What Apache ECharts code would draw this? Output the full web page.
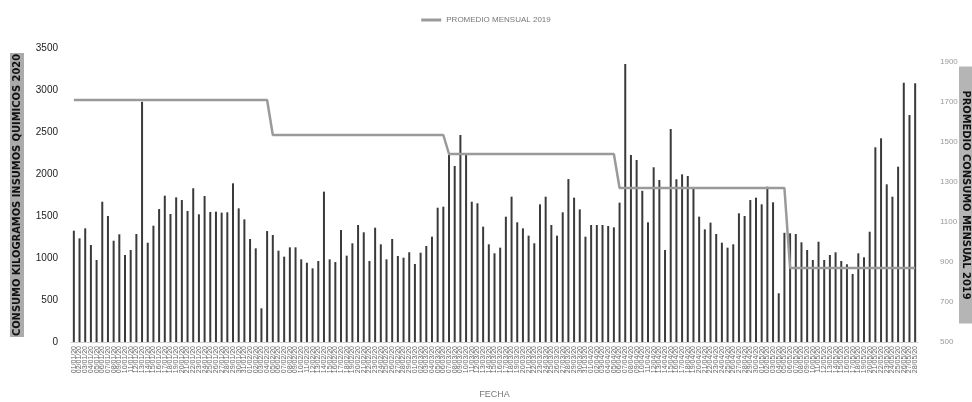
<!DOCTYPE html>
<html>
<head>
<meta charset="utf-8">
<script src="https://cdn.jsdelivr.net/npm/echarts@6/dist/echarts.min.js"></script>
<style>html,body{margin:0;padding:0;background:#fff}#c{width:972px;height:402px}</style>
</head>
<body>
<div id="c"></div>
<script>
const categories = [
"01/01/20","02/01/20","03/01/20","04/01/20","05/01/20","06/01/20","07/01/20","08/01/20","09/01/20","10/01/20",
"11/01/20","12/01/20","13/01/20","14/01/20","15/01/20","16/01/20","17/01/20","18/01/20","19/01/20","20/01/20",
"21/01/20","22/01/20","23/01/20","24/01/20","25/01/20","26/01/20","27/01/20","28/01/20","29/01/20","30/01/20","31/01/20",
"01/02/20","02/02/20","03/02/20","04/02/20","05/02/20","06/02/20","07/02/20","08/02/20","09/02/20","10/02/20",
"11/02/20","12/02/20","13/02/20","14/02/20","15/02/20","16/02/20","17/02/20","18/02/20","19/02/20","20/02/20",
"21/02/20","22/02/20","23/02/20","24/02/20","25/02/20","26/02/20","27/02/20","28/02/20","29/02/20",
"01/03/20","02/03/20","03/03/20","04/03/20","05/03/20","06/03/20","07/03/20","08/03/20","09/03/20","10/03/20",
"11/03/20","12/03/20","13/03/20","14/03/20","15/03/20","16/03/20","17/03/20","18/03/20","19/03/20","20/03/20",
"21/03/20","22/03/20","23/03/20","24/03/20","25/03/20","26/03/20","27/03/20","28/03/20","29/03/20","30/03/20","31/03/20",
"01/04/20","02/04/20","03/04/20","04/04/20","05/04/20","06/04/20","07/04/20","08/04/20","09/04/20","10/04/20",
"11/04/20","12/04/20","13/04/20","14/04/20","15/04/20","16/04/20","17/04/20","18/04/20","19/04/20","20/04/20",
"21/04/20","22/04/20","23/04/20","24/04/20","25/04/20","26/04/20","27/04/20","28/04/20","29/04/20","30/04/20",
"01/05/20","02/05/20","03/05/20","04/05/20","05/05/20","06/05/20","07/05/20","08/05/20","09/05/20","10/05/20",
"11/05/20","12/05/20","13/05/20","14/05/20","15/05/20","16/05/20","17/05/20","18/05/20","19/05/20","20/05/20",
"21/05/20","22/05/20","23/05/20","24/05/20","25/05/20","26/05/20","27/05/20","28/05/20"
];

const consumo2020 = [
1325,1234,1353,1155,976,1670,1500,1206,1282,1036,
1095,1286,2860,1182,1385,1583,1742,1524,1722,1690,
1560,1830,1520,1738,1548,1552,1540,1544,1889,1591,
1460,1226,1115,401,1321,1274,1087,1016,1127,1127,
984,944,877,964,1790,984,952,1333,1028,1175,
1393,1306,964,1361,1163,984,1226,1024,1004,1068,
929,1063,1143,1254,1599,1611,2226,2095,2464,2246,
1670,1651,1373,1163,1056,1123,1492,1730,1425,1353,
1266,1175,1639,1730,1393,1266,1544,1940,1718,1579,
1254,1393,1393,1393,1381,1365,1659,3310,2226,2167,
1800,1425,2080,1929,1095,2536,1937,1996,1976,1830,
1492,1341,1421,1286,1182,1123,1163,1532,1500,1690,
1718,1639,1849,1663,580,1300,1294,1286,1187,1095,
976,1194,976,1036,1068,964,925,810,1056,1008,
1313,2318,2425,1877,1730,2087,3087,2702,3080
];

const promedio2019 = [
1710,1710,1710,1710,1710,1710,1710,1710,1710,1710,
1710,1710,1710,1710,1710,1710,1710,1710,1710,1710,
1710,1710,1710,1710,1710,1710,1710,1710,1710,1710,
1710,1710,1710,1710,1710,1535,1535,1535,1535,1535,
1535,1535,1535,1535,1535,1535,1535,1535,1535,1535,
1535,1535,1535,1535,1535,1535,1535,1535,1535,1535,
1535,1535,1535,1535,1535,1535,1440,1440,1440,1440,
1440,1440,1440,1440,1440,1440,1440,1440,1440,1440,
1440,1440,1440,1440,1440,1440,1440,1440,1440,1440,
1440,1440,1440,1440,1440,1440,1270,1270,1270,1270,
1270,1270,1270,1270,1270,1270,1270,1270,1270,1270,
1270,1270,1270,1270,1270,1270,1270,1270,1270,1270,
1270,1270,1270,1270,1270,1270,870,870,870,870,
870,870,870,870,870,870,870,870,870,870,
870,870,870,870,870,870,870,870,870
];

const leftAxisName = 'CONSUMO KILOGRAMOS INSUMOS QUIMICOS 2020';
const rightAxisName = 'PROMEDIO CONSUMO MENSUAL 2019';
const lineName = 'PROMEDIO MENSUAL 2019';
const xAxisName = 'FECHA';

const plain = v => String(v);

const chart = echarts.init(document.getElementById('c'), null, {renderer: 'canvas'});
chart.setOption({
  animation: false,
  backgroundColor: '#ffffff',
  textStyle: {fontFamily: 'Liberation Sans, DejaVu Sans, sans-serif'},
  legend: {
    data: [lineName],
    top: 11,
    left: 'center',
    icon: 'rect',
    itemWidth: 20,
    itemHeight: 3,
    itemGap: 4,
    textStyle: {fontSize: 8, color: '#777'}
  },
  grid: {left: 71, right: 54, top: 48, bottom: 60, containLabel: false, outerBoundsMode: 'none'},
  xAxis: {
    type: 'category',
    data: categories,
    name: xAxisName,
    nameLocation: 'middle',
    nameGap: 48,
    nameMoveOverlap: false,
    nameTextStyle: {fontSize: 9, color: '#777'},
    axisTick: {show: false},
    axisLine: {lineStyle: {color: '#d0d0d0'}},
    axisLabel: {rotate: 90, interval: 0, fontSize: 7, color: '#666', margin: 4}
  },
  yAxis: [
    {
      type: 'value', min: 0, max: 3500, interval: 500,
      name: leftAxisName,
      nameLocation: 'middle',
      nameRotate: 90,
      nameGap: 47,
      nameMoveOverlap: false,
      nameTextStyle: {fontSize: 11, fontWeight: 'bold', color: '#111', backgroundColor: '#ababab', padding: [2, 1, 1, 1], fontFamily: 'DejaVu Sans Condensed, Liberation Sans, sans-serif'},
      axisLine: {show: false},
      axisTick: {show: false},
      splitLine: {show: false},
      axisLabel: {fontSize: 10, color: '#222', margin: 13, formatter: plain}
    },
    {
      type: 'value', min: 500, max: 1970, interval: 200,
      position: 'right',
      name: rightAxisName,
      nameLocation: 'middle',
      nameRotate: -90,
      nameGap: 41,
      nameMoveOverlap: false,
      nameTextStyle: {fontSize: 11, fontWeight: 'bold', color: '#111', backgroundColor: '#b5b5b5', padding: [1, 24, 1, 24], fontFamily: 'DejaVu Sans Condensed, Liberation Sans, sans-serif'},
      axisLine: {show: false},
      axisTick: {show: false},
      splitLine: {show: false},
      axisLabel: {fontSize: 8, color: '#999', margin: 22, showMaxLabel: false, formatter: plain}
    }
  ],
  series: [
    {
      name: 'CONSUMO 2020',
      type: 'bar',
      data: consumo2020,
      yAxisIndex: 0,
      barWidth: 2,
      itemStyle: {color: '#3a3a3a'}
    },
    {
      name: lineName,
      type: 'line',
      data: promedio2019,
      yAxisIndex: 1,
      showSymbol: false,
      symbol: 'none',
      lineStyle: {color: '#9a9a9a', width: 2.5},
      itemStyle: {color: '#9a9a9a'}
    }
  ]
});
</script>
</body>
</html>
